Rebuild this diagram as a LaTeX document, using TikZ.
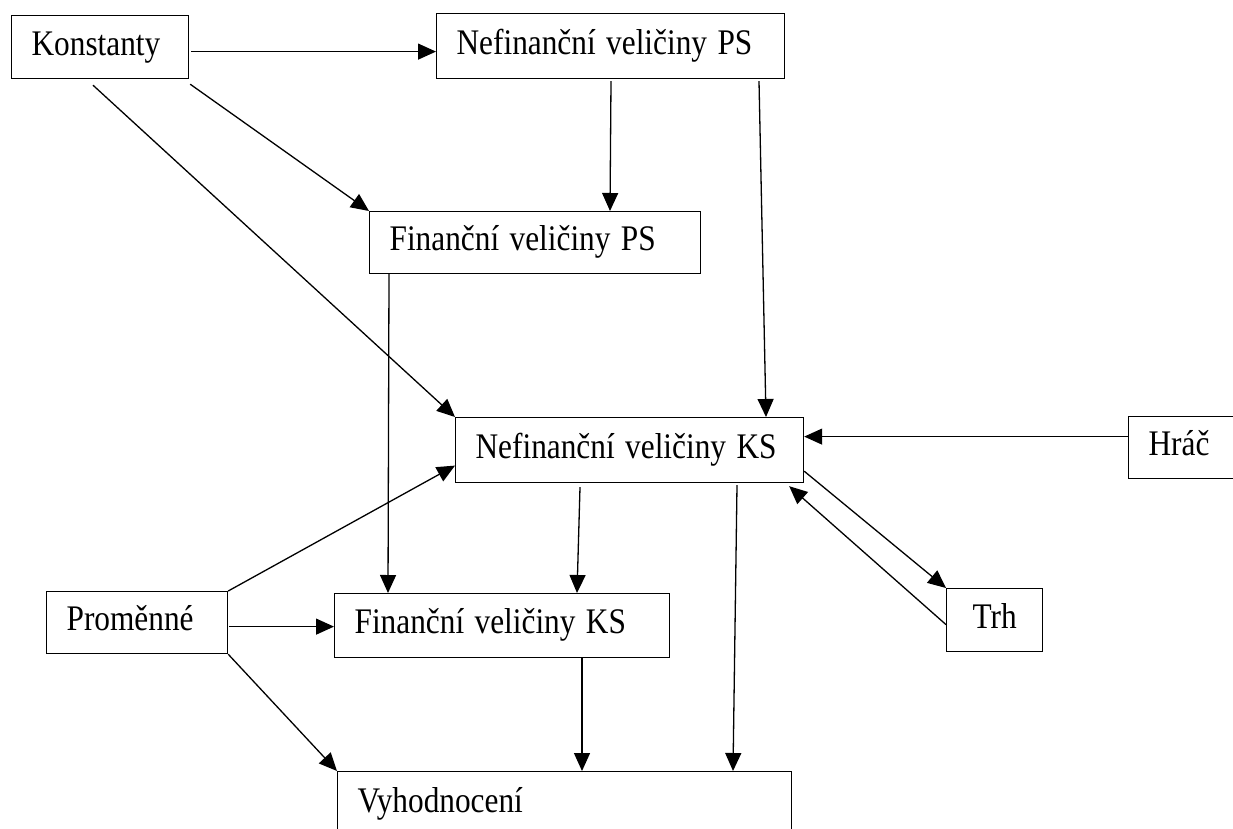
\documentclass[tikz,border=0pt]{standalone}
\usepackage{fontspec}
\setmainfont{Liberation Serif}
\usetikzlibrary{arrows.meta}
\newcommand\tx[1]{\scalebox{0.87}[1]{#1}}
\tikzset{
  box/.style={draw, line width=1.2pt, anchor=north west, inner xsep=20pt, inner ysep=0pt,
    align=left, font=\fontsize{36}{43}\selectfont, text height=27pt, text depth=11pt},
  conn/.style={line width=1.3pt, -{Triangle[length=18pt,width=16pt]}}
}
\begin{document}
\begin{tikzpicture}[x=1pt,y=-1pt]
\useasboundingbox (0,0) rectangle (1233,829);
\clip (0,0) rectangle (1233,829);
\node[box, text width=137pt, minimum height=63pt] (konst) at (11,15) {\tx{Konstanty}};
\node[box, text width=308pt, minimum height=65pt] (nps) at (436,13) {\tx{Nefinanční veličiny PS}};
\node[box, text width=291pt, minimum height=62pt] (fps) at (369,211) {\tx{Finanční veličiny PS}};
\node[box, text width=308pt, minimum height=65pt] (nks) at (455,417) {\tx{Nefinanční veličiny KS}};
\node[box, text width=110pt, minimum height=62pt] (hrac) at (1128,416) {\tx{Hráč}};
\node[box, text width=56pt, minimum height=63pt, inner xsep=0pt, minimum width=96pt, align=center] (trh) at (946,588) {\tx{Trh}};
\node[box, text width=141pt, minimum height=62pt] (prom) at (46,591) {\tx{Proměnné}};
\node[box, text width=295pt, minimum height=64pt] (fks) at (334,593) {\tx{Finanční veličiny KS}};
\node[box, text width=414pt, minimum height=65pt] (vyh) at (337,771) {\tx{Vyhodnocení}};

\draw[conn] ([xshift=2pt,yshift=-4.5pt]konst.east) -- ([yshift=-5.5pt]nps.west);
\draw[conn] ([xshift=82pt,yshift=-6pt]konst.south west) -- (nks.north west);
\draw[conn] ([xshift=1pt,yshift=-5pt]konst.south east) -- (fps.north west);
\draw[conn] ([xshift=175pt,yshift=-2pt]nps.south west) -- ([xshift=241pt]fps.north west);
\draw[conn] ([xshift=323pt,yshift=-2pt]nps.south west) -- ([xshift=311pt]nks.north west);
\draw[conn] ([yshift=11pt]hrac.west) -- ([yshift=13.5pt]nks.east);
\draw[conn] ([yshift=12pt]nks.south east) -- (trh.north west);
\draw[conn] ([yshift=-4.5pt]trh.west) -- ([xshift=-15pt,yshift=-3pt]nks.south east);
\draw[conn] ([xshift=20pt]fps.south west) -- ([xshift=54pt]fks.north west);
\draw[conn] ([xshift=125pt,yshift=-4pt]nks.south west) -- ([xshift=243pt]fks.north west);
\draw[conn] ([xshift=282pt,yshift=-2pt]nks.south west) -- ([xshift=396pt]vyh.north west);
\draw[conn] ([xshift=248pt]fks.south west) -- ([xshift=245pt]vyh.north west);
\draw[conn] (prom.north east) -- ([yshift=-15.5pt]nks.west);
\draw[conn] ([xshift=1pt,yshift=-4pt]prom.east) -- ([yshift=-1pt]fks.west);
\draw[conn] (prom.south east) -- (vyh.north west);
\end{tikzpicture}
\end{document}
